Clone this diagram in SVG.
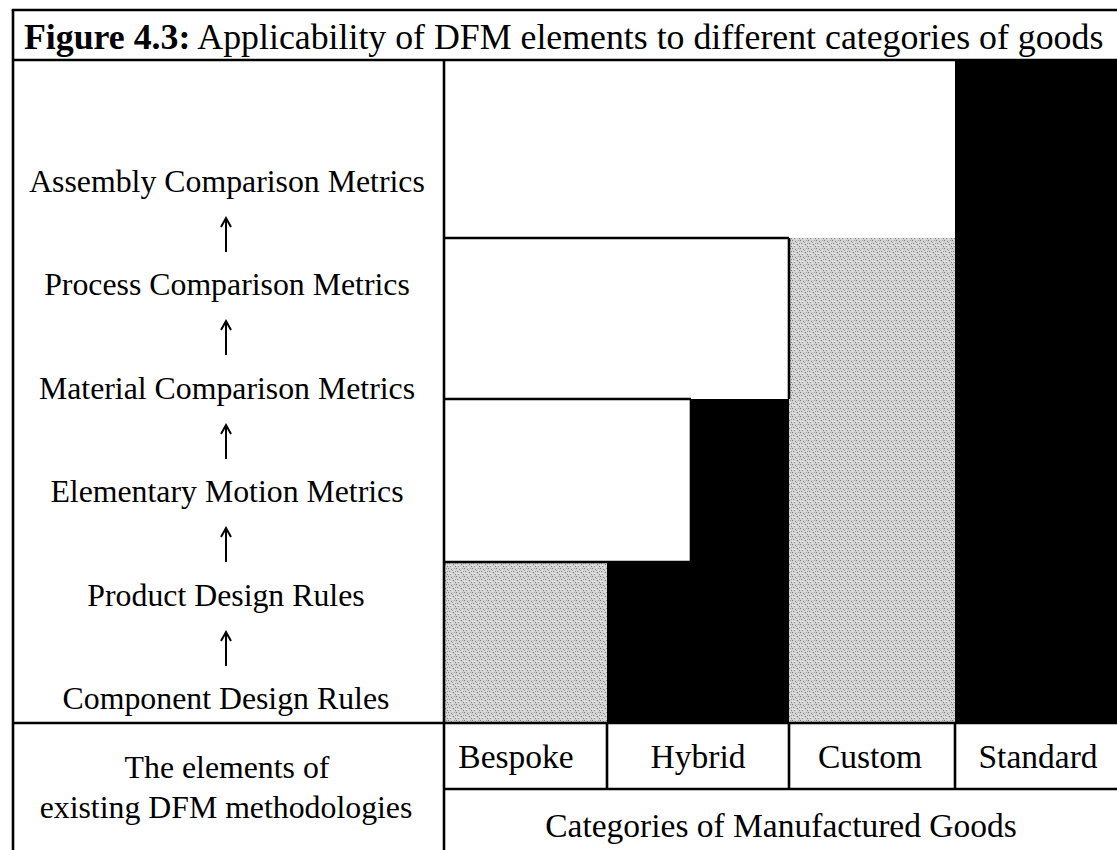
<svg xmlns="http://www.w3.org/2000/svg" width="1117" height="850" viewBox="0 0 1117 850">
  <style>
    .t { font-family: "Liberation Serif", "Times New Roman", serif; font-size: 31.8px; fill: #000; text-anchor: middle; }
    .cat { font-size: 33.5px; }
    .title { font-family: "Liberation Serif", "Times New Roman", serif; font-size: 35.8px; fill: #000; }
    .rule { stroke: #000; stroke-width: 2.6; fill: none; }
    .arrow { stroke: #000; stroke-width: 2; fill: none; }
  </style>
  <defs>
    <pattern id="stipple" width="8" height="8" patternUnits="userSpaceOnUse">
      <rect width="8" height="8" fill="#d2d2d2"/>
      <rect x="0" y="0" width="1" height="1" fill="#777"/>
      <rect x="3" y="1" width="1" height="1" fill="#888"/>
      <rect x="6" y="0" width="1" height="1" fill="#999"/>
      <rect x="1" y="3" width="1" height="1" fill="#8a8a8a"/>
      <rect x="5" y="4" width="1" height="1" fill="#7c7c7c"/>
      <rect x="2" y="6" width="1" height="1" fill="#909090"/>
      <rect x="7" y="6" width="1" height="1" fill="#858585"/>
      <rect x="4" y="2" width="1" height="1" fill="#a5a5a5"/>
      <rect x="2" y="5" width="1" height="1" fill="#f4f4f4"/>
      <rect x="6" y="2" width="1" height="1" fill="#f0f0f0"/>
      <rect x="0" y="5" width="1" height="1" fill="#f2f2f2"/>
      <rect x="4" y="7" width="1" height="1" fill="#efefef"/>
      <rect x="7" y="3" width="1" height="1" fill="#9a9a9a"/>
    </pattern>
  </defs>
  <rect width="1117" height="850" fill="#fff"/>

  <g id="title">
    <text class="title" x="24" y="49"><tspan font-weight="bold">Figure 4.3:</tspan> Applicability of DFM elements to different categories of goods</text>
  </g>

  <!-- applicability blocks per category -->
  <g id="standard-block">
    <rect x="955" y="60" width="162" height="663" fill="#000"/>
  </g>
  <g id="custom-block">
    <rect x="789" y="238" width="166" height="485" fill="url(#stipple)"/>
  </g>
  <g id="hybrid-block">
    <polygon points="691,399 789,399 789,723 607,723 607,562 691,562" fill="#000"/>
  </g>
  <g id="bespoke-block">
    <rect x="444" y="562" width="163" height="161" fill="url(#stipple)"/>
  </g>

  <!-- table frame and block outlines -->
  <g id="frame">
    <line class="rule" x1="11.7" y1="10" x2="1117" y2="10"/>
    <line class="rule" x1="13" y1="10" x2="13" y2="850"/>
    <line class="rule" x1="13" y1="60" x2="1117" y2="60"/>
    <line class="rule" x1="444" y1="60" x2="444" y2="850"/>
    <line class="rule" x1="13" y1="723" x2="1117" y2="723"/>
    <line class="rule" x1="444" y1="789" x2="1117" y2="789"/>
    <line class="rule" x1="607" y1="723" x2="607" y2="789"/>
    <line class="rule" x1="789" y1="723" x2="789" y2="789"/>
    <line class="rule" x1="955" y1="723" x2="955" y2="789"/>
    <line class="rule" x1="444" y1="238" x2="789" y2="238"/>
    <line class="rule" x1="789" y1="238" x2="789" y2="399"/>
    <line class="rule" x1="444" y1="399" x2="691" y2="399"/>
    <line class="rule" x1="691" y1="399" x2="691" y2="562"/>
    <line class="rule" x1="444" y1="562" x2="691" y2="562"/>
  </g>

  <!-- DFM elements, lowest level at the bottom -->
  <g id="el-assembly"><text class="t" x="227" y="192">Assembly Comparison Metrics</text></g>
  <g id="el-process"><text class="t" x="227" y="295">Process Comparison Metrics</text></g>
  <g id="el-material"><text class="t" x="227" y="399">Material Comparison Metrics</text></g>
  <g id="el-motion"><text class="t" x="227" y="502">Elementary Motion Metrics</text></g>
  <g id="el-product"><text class="t" x="226" y="606">Product Design Rules</text></g>
  <g id="el-component"><text class="t" x="226" y="709">Component Design Rules</text></g>

  <g id="connectors">
    <path class="arrow" d="M226,252 V219 M221,227 L226,218 L231,227"/>
    <path class="arrow" d="M226,355 V322 M221,330 L226,321 L231,330"/>
    <path class="arrow" d="M226,459 V426 M221,434 L226,425 L231,434"/>
    <path class="arrow" d="M226,562 V529 M221,537 L226,528 L231,537"/>
    <path class="arrow" d="M226,666 V633 M221,641 L226,632 L231,641"/>
  </g>

  <g id="left-caption">
    <text class="t" x="227" y="778">The elements of</text>
    <text class="t" x="226" y="818">existing DFM methodologies</text>
  </g>

  <g id="cat-bespoke"><text class="t cat" x="516" y="768">Bespoke</text></g>
  <g id="cat-hybrid"><text class="t cat" x="698" y="768">Hybrid</text></g>
  <g id="cat-custom"><text class="t cat" x="870" y="768">Custom</text></g>
  <g id="cat-standard"><text class="t cat" x="1038" y="768">Standard</text></g>

  <g id="bottom-caption">
    <text class="t cat" x="781" y="837">Categories of Manufactured Goods</text>
  </g>
</svg>
